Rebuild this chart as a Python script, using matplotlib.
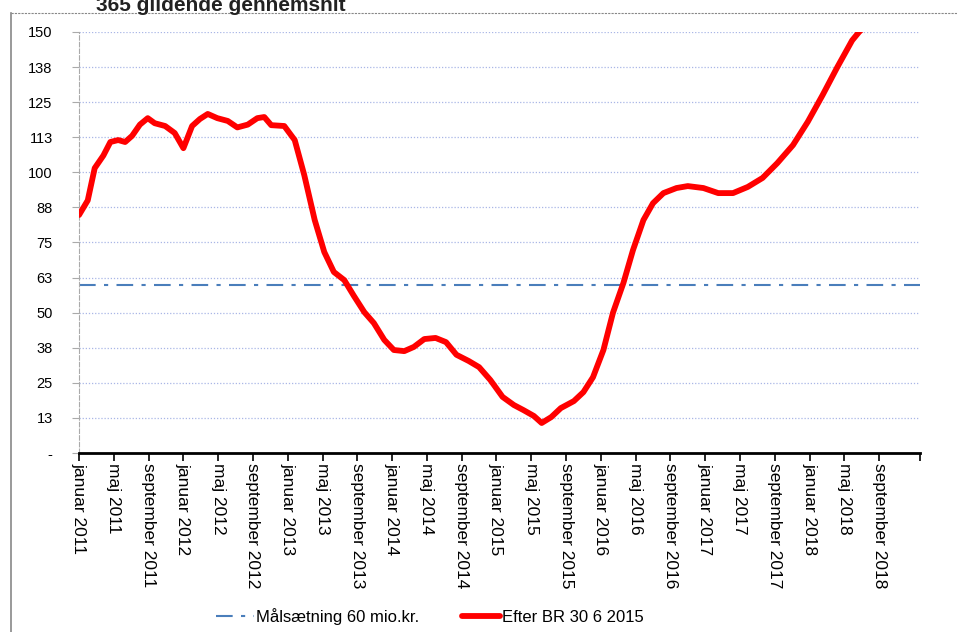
import matplotlib
matplotlib.use("Agg")
from matplotlib import pyplot as plt
from matplotlib.lines import Line2D
import numpy as np

# months since januar 2011 and value (mio. kr.)
months = [0, 1.0, 1.8, 2.8, 3.6, 4.5, 5.3, 6.1, 7.0, 7.9, 8.7, 9.9, 11.0, 12.0,
          13.0, 13.9, 14.8, 15.9, 17.1, 18.2, 19.4, 20.5, 21.3, 22.1, 23.6, 24.8,
          25.9, 27.1, 28.2, 29.3, 30.5, 31.6, 32.8, 33.9, 35.1, 36.2, 37.4, 38.5,
          39.7, 41.0, 42.2, 43.4, 44.8, 46.0, 47.3, 48.7, 50.0, 51.1, 52.3, 53.2,
          54.3, 55.4, 56.9, 58.0, 59.1, 60.3, 61.4, 62.6, 63.7, 64.9, 66.0, 67.2,
          68.7, 70.0, 71.8, 73.5, 75.2, 76.9, 78.6, 80.3, 82.1, 83.8, 85.5, 87.2,
          88.9, 89.7, 90.7]
values = [84.8, 90, 101.5, 106, 110.8, 111.5, 110.8, 113, 117, 119.3, 117.5, 116.5,
          114, 108.6, 116.5, 119, 120.8, 119.3, 118.3, 116, 117, 119.3, 119.7, 116.8,
          116.5, 111.5, 99, 83, 71.6, 64.5, 61.6, 56, 50.2, 46.3, 40.3, 36.7, 36.3,
          37.8, 40.6, 41, 39.5, 35, 32.8, 30.6, 26, 20, 17.1, 15.3, 13.2, 10.7, 12.8,
          16, 18.5, 21.7, 27, 36.7, 50, 60.6, 72.3, 83, 89, 92.6, 94.4, 95.1, 94.4,
          92.6, 92.6, 94.8, 98, 103.3, 109.7, 118, 127.5, 137.5, 147, 150, 153]
target = 60

tick_months = list(range(0, 93, 4))
month_names = ["januar", "maj", "september"]
tick_labels = [f"{month_names[(m % 12) // 4]} {2011 + m // 12}" for m in tick_months]
y_ticks = np.arange(0, 151, 12.5)
y_labels = ["-", "13", "25", "38", "50", "63", "75", "88", "100", "113", "125", "138", "150"]

plt.rcParams['font.family'] = ['Liberation Sans', 'DejaVu Sans']

fig = plt.figure(figsize=(9.57, 6.32), dpi=100)
ax = fig.add_axes([0.0826, 0.2832, 0.8787, 0.6662])

ax.plot(months, values, color='#ff0000', linewidth=4.2, solid_capstyle='round',
        label='Efter BR 30 6 2015', zorder=3)
ax.axhline(target, color='#4a7ebb', linewidth=1.5, linestyle=(0, (8, 4, 2, 4)),
           label='Målsætning 60 mio.kr.', zorder=2)

ax.set_xlim(0, 96.7)
ax.set_ylim(0, 150)
ax.set_yticks(y_ticks)
ax.set_yticklabels(y_labels, fontsize=10.5)
ax.set_xticks(tick_months + [96.7])
ax.set_xticklabels(tick_labels + [""], rotation=-90, fontsize=12.5, ha='center', va='top')

for y in y_ticks[1:]:
    ax.axhline(y, color='#a9b6e6', linewidth=0.9, linestyle=(0, (1, 1.5)), zorder=1)

for s in ['top', 'right']:
    ax.spines[s].set_visible(False)
ax.spines['left'].set_color('#aaaaaa')
ax.spines['left'].set_linestyle((0, (4, 2)))
ax.spines['left'].set_linewidth(0.8)
ax.spines['bottom'].set_color('black')
ax.spines['bottom'].set_linewidth(2)
ax.tick_params(axis='x', length=6, width=1.2, color='black', pad=1)
ax.tick_params(axis='y', length=5, width=0.8, color='#aaaaaa', pad=14)

handles, labels = ax.get_legend_handles_labels()
fig.legend(handles[::-1], labels[::-1], loc='center', bbox_to_anchor=(0.449, 0.025),
           ncol=2, frameon=False, fontsize=12, handlelength=2.3, handletextpad=0.1,
           columnspacing=2.6)

# frame fragments and cropped title
fig.add_artist(Line2D([0.0115, 0.0115], [0, 0.979], color='#888888', linewidth=1.2))
fig.add_artist(Line2D([0.0115, 1], [0.979, 0.979], color='#888888', linewidth=0.8,
                      linestyle=(0, (2, 1))))
fig.text(0.1, 0.992, "365 glidende gennemsnit", fontsize=15, fontweight='bold',
         color='#222222', va='center', ha='left', family='Liberation Sans')

fig.savefig('out.png', dpi=100)
